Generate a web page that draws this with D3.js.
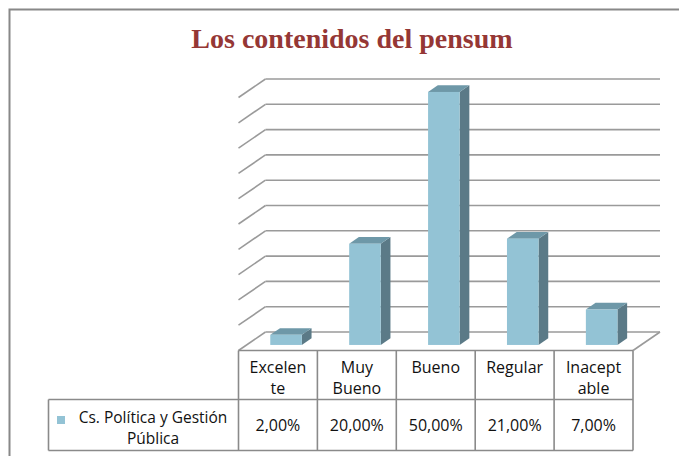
<!DOCTYPE html>
<html>
<head>
<meta charset="utf-8">
<script src="https://cdn.jsdelivr.net/npm/d3@7"></script>
<style>
  body { margin: 0; background: #fff; }
  svg { display: block; }
</style>
</head>
<body>
<div id="chart"></div>
<script>
var id = '#chart'

var title = 'Los contenidos del pensum'
var seriesName = ['Cs. Política y Gestión', 'Pública']
var categories = ['Excelente', 'Muy Bueno', 'Bueno', 'Regular', 'Inaceptable']
var categoryLines = [['Excelen', 'te'], ['Muy', 'Bueno'], ['Bueno'], ['Regular'], ['Inacept', 'able']]
var values = [2, 20, 50, 21, 7]
var valueLabels = ['2,00%', '20,00%', '50,00%', '21,00%', '7,00%']
var ticks = [0, 5, 10, 15, 20, 25, 30, 35, 40, 45, 50]

var cfg = {
  w: 679,
  h: 456,
  floorFront: 350.5,
  depthX: 27,
  depthY: -18.5,
  plotLeft: 238.5,
  plotRight: 633,
  wallHeight: 253,
  barFront: 0.3,
  barBack: 0.66,
  barWidth: 0.4,
  gridColor: '#9a9a9a',
  lineColor: '#8a8a8a',
  colors: {front: '#93c3d5', side: '#5b7a87', top: '#6e98a8'},
  font: '"Open Sans", sans-serif'
}

var svg = d3.select(id).append('svg')
  .attr('width', cfg.w)
  .attr('height', cfg.h)

// outer chart frame (cropped by the picture)
svg.append('rect')
  .attr('x', 9.5).attr('y', 9.5)
  .attr('width', 720).attr('height', 480)
  .style('fill', 'none')
  .style('stroke', '#888')
  .style('stroke-width', 2)

svg.append('text')
  .attr('x', 352)
  .attr('y', 48)
  .attr('text-anchor', 'middle')
  .style('font-family', '"Liberation Serif", serif')
  .style('font-weight', 'bold')
  .style('font-size', '28px')
  .style('fill', '#953735')
  .text(title)

var x = d3.scaleBand()
  .domain(categories)
  .range([cfg.plotLeft, cfg.plotRight])

var y = d3.scaleLinear()
  .domain([0, 50])
  .range([0, cfg.wallHeight])

var backBase = cfg.floorFront + cfg.depthY
var dx = cfg.depthX, dy = cfg.depthY

var grid = svg.append('g').attr('class', 'grid')
  .style('stroke', cfg.gridColor)
  .style('stroke-width', 1.6)
  .style('fill', 'none')

// back wall lines
grid.selectAll('.hline')
  .data(ticks)
  .enter().append('line')
  .attr('x1', cfg.plotLeft + dx)
  .attr('x2', cfg.plotRight + dx)
  .attr('y1', d => backBase - y(d))
  .attr('y2', d => backBase - y(d))

// side wall lines
grid.selectAll('.dline')
  .data(ticks)
  .enter().append('line')
  .attr('x1', cfg.plotLeft)
  .attr('y1', d => cfg.floorFront - y(d))
  .attr('x2', cfg.plotLeft + dx)
  .attr('y2', d => backBase - y(d))

// floor right edge
grid.append('line')
  .attr('x1', cfg.plotRight).attr('y1', cfg.floorFront)
  .attr('x2', cfg.plotRight + dx).attr('y2', backBase)

var bw = x.bandwidth() * cfg.barWidth

var bars = svg.selectAll('.bar')
  .data(values)
  .enter().append('g')
  .attr('class', 'bar')

function face(pts) {
  return 'M' + pts.map(p => p.join(',')).join('L') + 'Z'
}

function barGeom(d, i) {
  var cx = x(categories[i]) + x.bandwidth() / 2
  var fx = cx + dx * cfg.barFront - bw / 2
  var fy = cfg.floorFront + dy * cfg.barFront
  var ox = dx * (cfg.barBack - cfg.barFront)
  var oy = dy * (cfg.barBack - cfg.barFront)
  return {fx: fx, fy: fy, ox: ox, oy: oy, h: y(d)}
}

bars.append('path')
  .attr('d', (d, i) => {
    var g = barGeom(d, i)
    return face([[g.fx + bw, g.fy], [g.fx + bw + g.ox, g.fy + g.oy], [g.fx + bw + g.ox, g.fy + g.oy - g.h], [g.fx + bw, g.fy - g.h]])
  })
  .style('fill', cfg.colors.side)

bars.append('path')
  .attr('d', (d, i) => {
    var g = barGeom(d, i)
    return face([[g.fx, g.fy - g.h], [g.fx + bw, g.fy - g.h], [g.fx + bw + g.ox, g.fy + g.oy - g.h], [g.fx + g.ox, g.fy + g.oy - g.h]])
  })
  .style('fill', cfg.colors.top)

bars.append('rect')
  .attr('x', (d, i) => barGeom(d, i).fx)
  .attr('y', (d, i) => barGeom(d, i).fy - y(d))
  .attr('width', bw)
  .attr('height', d => y(d))
  .style('fill', cfg.colors.front)

// data table
var rowTop = cfg.floorFront, rowMid = 399.5, rowBot = 450.5, legendLeft = 48.5

var table = svg.append('g').attr('class', 'table')
  .style('stroke', cfg.lineColor)
  .style('stroke-width', 1.6)

var cols = categories.map(c => x(c)).concat([cfg.plotRight])

table.selectAll('.vline')
  .data(cols)
  .enter().append('line')
  .attr('x1', d => d).attr('x2', d => d)
  .attr('y1', rowTop).attr('y2', rowBot)

table.append('line')
  .attr('x1', cfg.plotLeft).attr('x2', cfg.plotRight)
  .attr('y1', rowTop).attr('y2', rowTop)
table.append('line')
  .attr('x1', legendLeft).attr('x2', cfg.plotRight)
  .attr('y1', rowMid).attr('y2', rowMid)
table.append('line')
  .attr('x1', legendLeft).attr('x2', cfg.plotRight)
  .attr('y1', rowBot).attr('y2', rowBot)
table.append('line')
  .attr('x1', legendLeft).attr('x2', legendLeft)
  .attr('y1', rowMid).attr('y2', rowBot)

var txt = svg.append('g')
  .style('font-family', cfg.font)
  .style('font-size', '16px')
  .style('fill', '#111')
  .attr('text-anchor', 'middle')

txt.selectAll('.cat')
  .data(categoryLines)
  .enter().append('text')
  .attr('x', (d, i) => x(categories[i]) + x.bandwidth() / 2)
  .attr('y', 373)
  .each(function(d) {
    d3.select(this).selectAll('tspan')
      .data(d)
      .enter().append('tspan')
      .attr('x', d3.select(this).attr('x'))
      .attr('dy', (t, j) => j == 0 ? 0 : 20.5)
      .text(t => t)
  })

txt.selectAll('.val')
  .data(valueLabels)
  .enter().append('text')
  .attr('x', (d, i) => x(categories[i]) + x.bandwidth() / 2)
  .attr('y', 430.5)
  .text(d => d)

svg.append('rect')
  .attr('x', 57).attr('y', 416)
  .attr('width', 8).attr('height', 8)
  .style('fill', cfg.colors.front)

txt.selectAll('.leg')
  .data(seriesName)
  .enter().append('text')
  .attr('x', 153)
  .attr('y', (d, i) => 423 + i * 21)
  .style('font-size', '15.5px')
  .text(d => d)
</script>
</body>
</html>
